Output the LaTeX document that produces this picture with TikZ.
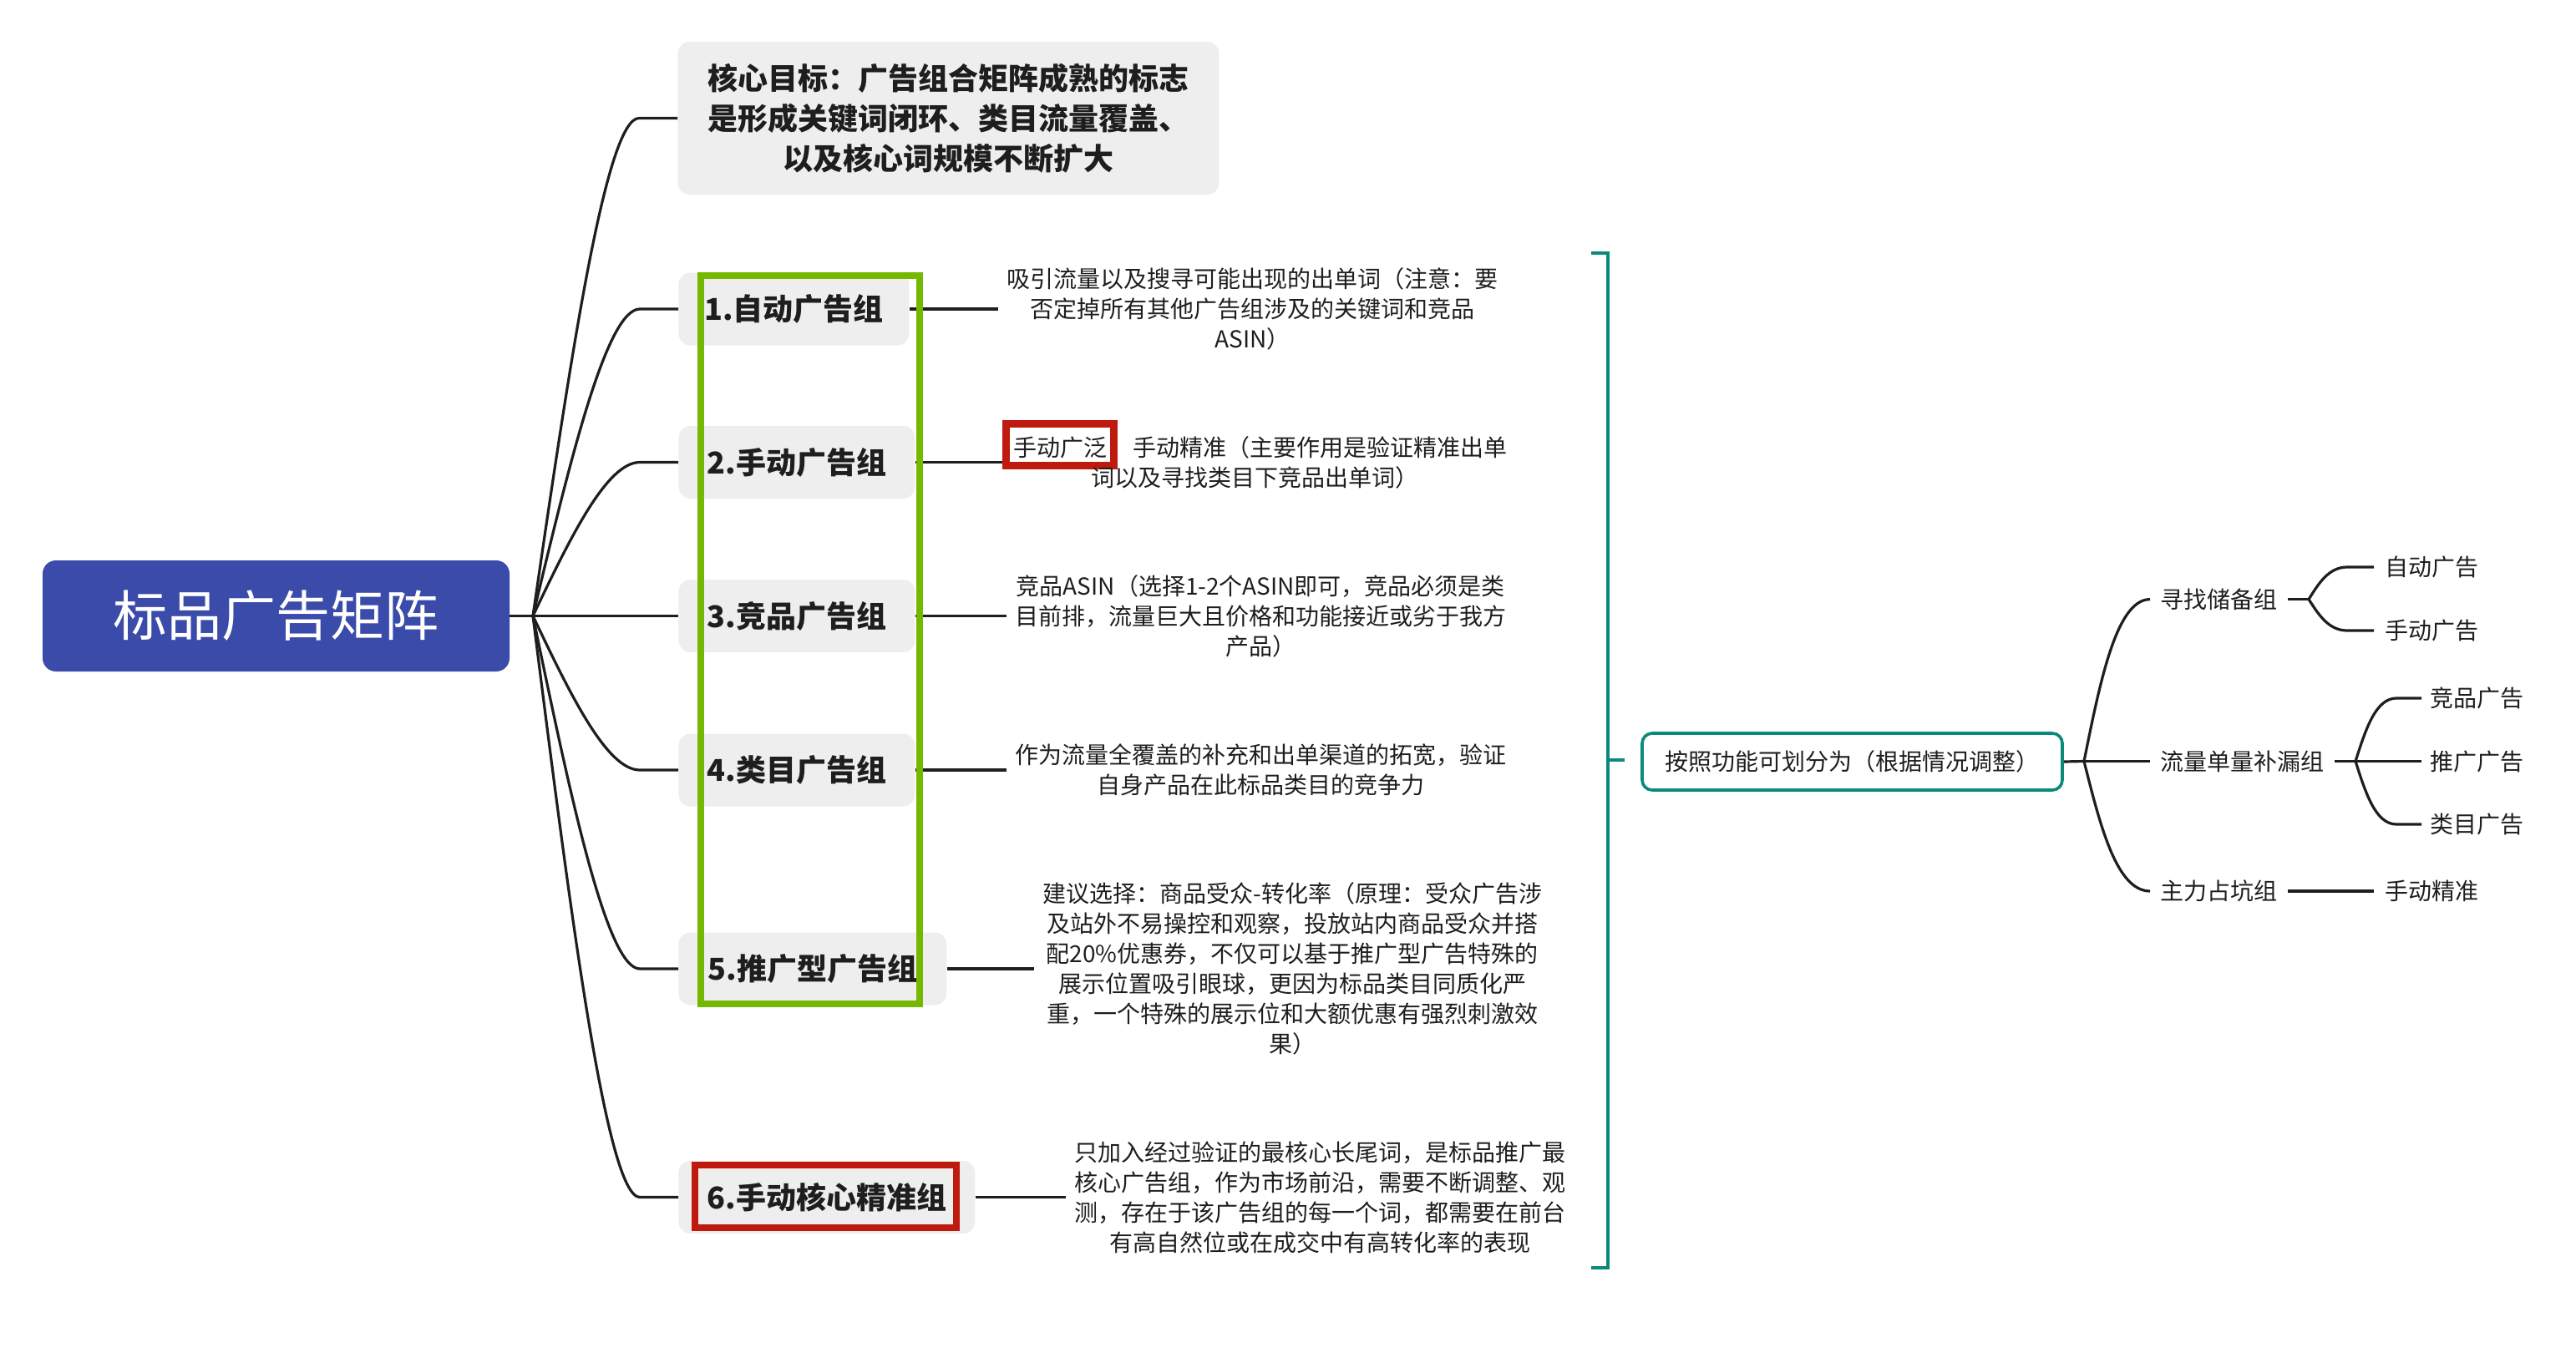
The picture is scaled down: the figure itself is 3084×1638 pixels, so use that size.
\documentclass[tikz,border=0pt]{standalone}
\usepackage{fontspec}
\setmainfont{Noto Sans CJK SC}
\usetikzlibrary{calc}
\definecolor{mainblue}{RGB}{58,75,170}
\definecolor{boxgray}{RGB}{238,238,238}
\definecolor{hlgreen}{RGB}{116,185,0}
\definecolor{hlred}{RGB}{190,26,14}
\definecolor{tealline}{RGB}{11,138,122}
\definecolor{ink}{RGB}{30,30,30}
\newcommand{\curvelink}[4]{%
  \path ($(#2.west)+({-(#3)},0)$) coordinate (cE)
        ($(#2.west)+({-(#3)-(#4)},0)$) coordinate (cC)
        ($(#1)!0.5!(cC)$) coordinate (cB);
  \draw[conn] (#1) .. controls (cB) and (cC) .. (cE) -- (#2.west);}
\newcommand{\redtag}[1]{{\setlength{\fboxrule}{4.5pt}\setlength{\fboxsep}{2pt}\smash{\fcolorbox{hlred}{white}{\rule[-1.25pt]{0pt}{16.5pt}#1}}}}
\begin{document}
\begin{tikzpicture}[x=0.5pt,y=-0.5pt,
  conn/.style={draw=ink, line width=1.6pt},
  mainnode/.style={fill=mainblue, rounded corners=8pt, text=white, font=\fontsize{32.5}{39}\selectfont, minimum width=279.5pt, minimum height=66.5pt, inner sep=0pt},
  grp/.style={fill=boxgray, rounded corners=7pt, text=ink, font=\bfseries\fontsize{18}{24}\selectfont, minimum height=43.5pt, inner sep=0pt, anchor=west},
  goalbox/.style={grp, align=center, minimum width=324pt, minimum height=91.5pt},
  desc/.style={text=ink, font=\fontsize{14}{18}\selectfont, align=center, anchor=west, inner xsep=5pt, inner ysep=2pt},
  greenhl/.style={draw=hlgreen, line width=4pt},
  redhl/.style={draw=hlred, line width=3.8pt},
  bracketline/.style={draw=tealline, line width=2pt},
  tealnode/.style={draw=tealline, line width=1.8pt, fill=white, rounded corners=6pt, minimum width=251.5pt, minimum height=34pt, inner sep=0pt, text=ink, font=\fontsize{14}{18}\selectfont},
  leaf/.style={text=ink, font=\fontsize{14}{18}\selectfont, anchor=west, inner xsep=6pt, inner ysep=2pt}
]
\useasboundingbox (0,0) rectangle (3084,1638);
% main
\node[mainnode] (main) at (330.5,737.5) {标品广告矩阵};
\coordinate (J) at (638,737.5);
\draw[conn] (main.east) -- (J);
% level-1 nodes
\node[goalbox] (goal) at (811,141.5) {核心目标：广告组合矩阵成熟的标志\\是形成关键词闭环、类目流量覆盖、\\以及核心词规模不断扩大};
\node[grp, minimum width=138pt] (g1) at (812,370) {1.自动广告组};
\node[grp, minimum width=141.5pt] (g2) at (812,553.5) {2.手动广告组};
\node[grp, minimum width=141.5pt] (g3) at (812,737.5) {3.竞品广告组};
\node[grp, minimum width=141.5pt] (g4) at (812,922) {4.类目广告组};
\node[grp, minimum width=160.5pt] (g5) at (812,1160) {5.推广型广告组};
\node[grp, minimum width=177.5pt] (g6) at (812,1433.5) {6.手动核心精准组};
\curvelink{J}{goal}{46}{40}
\curvelink{J}{g1}{46}{40}
\curvelink{J}{g2}{46}{40}
\curvelink{J}{g3}{46}{40}
\curvelink{J}{g4}{46}{40}
\curvelink{J}{g5}{46}{40}
\curvelink{J}{g6}{46}{40}
% descriptions
\node[desc] (d1) at (1195,370) {吸引流量以及搜寻可能出现的出单词（注意：要\\否定掉所有其他广告组涉及的关键词和竞品\\ASIN）};
\node[desc, inner xsep=0pt] (d2) at (1200,553.5) {\redtag{手动广泛}\hspace{9pt}手动精准（主要作用是验证精准出单\\词以及寻找类目下竞品出单词）};
\node[desc] (d3) at (1205,737.5) {竞品ASIN（选择1-2个ASIN即可，竞品必须是类\\目前排，流量巨大且价格和功能接近或劣于我方\\产品）};
\node[desc] (d4) at (1205,922) {作为流量全覆盖的补充和出单渠道的拓宽，验证\\自身产品在此标品类目的竞争力};
\node[desc] (d5) at (1238,1160) {建议选择：商品受众-转化率（原理：受众广告涉\\及站外不易操控和观察，投放站内商品受众并搭\\配20\%优惠券，不仅可以基于推广型广告特殊的\\展示位置吸引眼球，更因为标品类目同质化严\\重，一个特殊的展示位和大额优惠有强烈刺激效\\果）};
\node[desc] (d6) at (1276,1433.5) {只加入经过验证的最核心长尾词，是标品推广最\\核心广告组，作为市场前沿，需要不断调整、观\\测，存在于该广告组的每一个词，都需要在前台\\有高自然位或在成交中有高转化率的表现};
\draw[conn] (g1.east) -- (d1.west);
\draw[conn] (g2.east) -- (d2.west);
\draw[conn] (g3.east) -- (d3.west);
\draw[conn] (g4.east) -- (d4.west);
\draw[conn] (g5.east) -- (d5.west);
\draw[conn] (g6.east) -- (d6.west);
% highlights
\draw[greenhl] (839,330) rectangle (1101,1202);
\draw[redhl] (832,1395) rectangle (1145,1470);
% bracket
\coordinate (bt1) at (1905,303);
\coordinate (bt2) at (1925,303);
\coordinate (bb2) at (1925,1518);
\coordinate (bb1) at (1905,1518);
\coordinate (bm1) at (1925,910);
\coordinate (bm2) at (1945,910);
\draw[bracketline] (bt1) -- (bt2) -- (bb2) -- (bb1);
\draw[bracketline] (bm1) -- (bm2);
% right subtree
\node[tealnode] (T) at (2217.5,912) {按照功能可划分为（根据情况调整）};
\coordinate (R) at (2495,911.5);
\draw[conn] (T.east) -- (R);
\node[leaf] (s1) at (2574,717.6) {寻找储备组};
\node[leaf] (s2) at (2574,911.5) {流量单量补漏组};
\node[leaf] (s3) at (2574,1067) {主力占坑组};
\curvelink{R}{s1}{0}{40}
\curvelink{R}{s2}{0}{40}
\curvelink{R}{s3}{0}{40}
\coordinate (J1) at (2764,717.6);
\draw[conn] (s1.east) -- (J1);
\node[leaf, inner xsep=6.5pt] (a1) at (2842,679) {自动广告};
\node[leaf, inner xsep=6.5pt] (a2) at (2842,755) {手动广告};
\curvelink{J1}{a1}{32}{22}
\curvelink{J1}{a2}{32}{22}
\coordinate (J2) at (2820,911.5);
\draw[conn] (s2.east) -- (J2);
\node[leaf, inner xsep=5pt] (b1) at (2899,836) {竞品广告};
\node[leaf, inner xsep=5pt] (b2) at (2899,911.5) {推广广告};
\node[leaf, inner xsep=5pt] (b3) at (2899,987) {类目广告};
\curvelink{J2}{b1}{30}{25}
\curvelink{J2}{b2}{30}{25}
\curvelink{J2}{b3}{30}{25}
\node[leaf, inner xsep=6.5pt] (c1) at (2842,1067) {手动精准};
\draw[conn] (s3.east) -- (c1.west);
\end{tikzpicture}
\end{document}
